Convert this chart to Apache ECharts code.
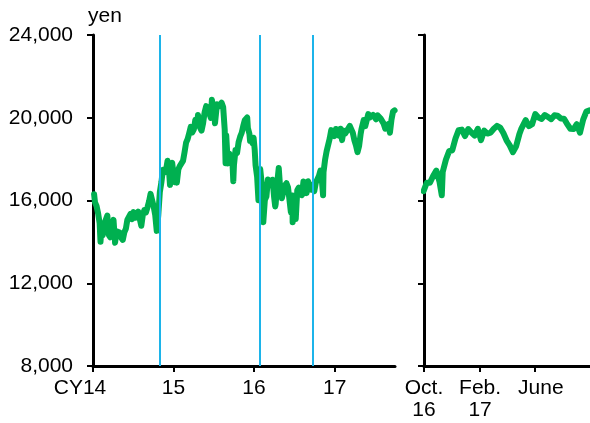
<!DOCTYPE html>
<html>
<head>
<meta charset="utf-8">
<script src="https://cdn.jsdelivr.net/npm/echarts@6/dist/echarts.min.js"></script>
<style>
  html, body { margin: 0; padding: 0; background: #fff; }
  #chart { width: 590px; height: 423px; }
</style>
</head>
<body>
<div id="chart"></div>
<script>
// Nikkei 225, mostly weekly closes (plus a few daily extremes)
const dates = [
  '2014-01-06','2014-01-10','2014-01-17','2014-01-24','2014-01-31','2014-02-04','2014-02-07','2014-02-14','2014-02-21','2014-02-28',
  '2014-03-07','2014-03-14','2014-03-20','2014-03-28','2014-04-04','2014-04-11','2014-04-18','2014-04-25','2014-05-02','2014-05-09',
  '2014-05-16','2014-05-23','2014-05-30','2014-06-06','2014-06-13','2014-06-20','2014-06-27','2014-07-04','2014-07-11','2014-07-18',
  '2014-07-25','2014-08-01','2014-08-08','2014-08-15','2014-08-22','2014-08-29','2014-09-05','2014-09-12','2014-09-19','2014-09-26',
  '2014-10-03','2014-10-10','2014-10-17','2014-10-24','2014-10-31','2014-11-07','2014-11-14','2014-11-21','2014-11-28','2014-12-05',
  '2014-12-12','2014-12-16','2014-12-19','2014-12-26','2014-12-30',
  '2015-01-06','2015-01-09','2015-01-16','2015-01-23','2015-01-30','2015-02-06','2015-02-13','2015-02-20','2015-02-27','2015-03-06',
  '2015-03-13','2015-03-20','2015-03-27','2015-04-03','2015-04-10','2015-04-17','2015-04-22','2015-04-24','2015-05-01','2015-05-08',
  '2015-05-15','2015-05-22','2015-05-29','2015-06-05','2015-06-12','2015-06-19','2015-06-24','2015-06-26','2015-07-03','2015-07-08',
  '2015-07-10','2015-07-17','2015-07-24','2015-07-31','2015-08-07','2015-08-14','2015-08-21','2015-08-25','2015-08-28','2015-09-04',
  '2015-09-11','2015-09-18','2015-09-25','2015-09-29','2015-10-02','2015-10-09','2015-10-16','2015-10-23','2015-10-30','2015-11-06',
  '2015-11-13','2015-11-20','2015-11-27','2015-12-01','2015-12-04','2015-12-11','2015-12-14','2015-12-18','2015-12-25','2015-12-30',
  '2016-01-04','2016-01-08','2016-01-15','2016-01-21','2016-01-22','2016-01-29','2016-02-05','2016-02-12','2016-02-19','2016-02-26',
  '2016-03-04','2016-03-11','2016-03-18','2016-03-25','2016-04-01','2016-04-06','2016-04-08','2016-04-15','2016-04-22','2016-04-28',
  '2016-05-06','2016-05-13','2016-05-20','2016-05-27','2016-06-03','2016-06-10','2016-06-16','2016-06-17','2016-06-23','2016-06-24',
  '2016-07-01','2016-07-08','2016-07-15','2016-07-22','2016-07-29','2016-08-05','2016-08-12','2016-08-19','2016-08-26','2016-09-02',
  '2016-09-09','2016-09-16','2016-09-23','2016-09-30','2016-10-07','2016-10-14','2016-10-21','2016-10-28','2016-11-04','2016-11-09',
  '2016-11-11','2016-11-18','2016-11-25','2016-12-02','2016-12-09','2016-12-16','2016-12-23','2016-12-30',
  '2017-01-06','2017-01-13','2017-01-20','2017-01-27','2017-02-03','2017-02-10','2017-02-17','2017-02-24','2017-03-03','2017-03-10',
  '2017-03-17','2017-03-24','2017-03-31','2017-04-07','2017-04-14','2017-04-21','2017-04-28','2017-05-02','2017-05-12','2017-05-19',
  '2017-05-26','2017-06-02','2017-06-09','2017-06-16','2017-06-23','2017-06-30','2017-07-07','2017-07-14','2017-07-21','2017-07-28',
  '2017-08-04','2017-08-10','2017-08-18','2017-08-25','2017-09-01','2017-09-08','2017-09-15','2017-09-22','2017-09-29'
];
const nikkei = [
  16300,15912,15734,15391,14915,14008,14462,14313,14866,14841,
  15274,14327,14224,14696,15063,13960,14516,14429,14457,14199,
  14096,14462,14632,15077,15097,15349,15095,15437,15164,15215,
  15457,15523,14778,15318,15539,15425,15669,15948,16321,16229,
  15709,15300,14532,15291,16414,16880,17490,17357,17460,17920,
  17371,16755,17621,17818,17451,
  16883,17198,16864,17512,17674,17648,17913,18332,18798,18971,
  19254,19560,19286,19435,19908,19653,20133,20020,19532,19380,
  19733,20264,20563,20461,20407,19990,20868,20706,20540,19737,
  19780,20650,20544,20585,20724,20519,19436,17806,19136,17792,
  18264,18070,17880,16931,17725,18438,18291,18825,19083,19265,
  19597,19880,19884,20012,19504,19230,18883,18986,18770,19034,
  18451,17698,17147,16017,16959,17518,16820,14953,16027,16188,
  17015,16939,16725,17003,16164,15715,15822,16849,17572,16666,
  16106,16412,16736,16834,16642,16601,15434,15599,16238,14952,
  15682,15107,16497,16627,16569,16254,16920,16545,16360,16926,
  16965,16519,16754,16449,16860,16856,17184,17446,16905,16251,
  17374,17968,18381,18426,18996,19401,19428,19114,
  19454,19287,19137,19467,18918,19379,19235,19284,19469,19605,
  19521,19262,18909,18665,18336,18620,19197,19446,19884,19591,
  19687,20177,20013,19943,20133,20033,19929,20119,20100,19960,
  19952,19730,19470,19453,19691,19275,19910,20296,20356
];

// BOJ policy dates marked with vertical lines
const policyDates = ['2014-10-31', '2016-01-29', '2016-09-21'];

const leftTickDates = ['2014-01-01', '2015-01-01', '2016-01-01', '2017-01-01'];
const leftTickLabels = ['CY14', '15', '16', '17'];
const rightTickDates = ['2016-10-01', '2017-02-01', '2017-06-01'];
const rightTickLabels = ['Oct.\n16', 'Feb.\n17', 'June'];
const yMin = 8000, yMax = 24000, yStep = 4000;

const FONT = '"Liberation Sans", Arial, sans-serif';
const FS = 21;
const GREEN = '#00B050';

const points = dates.map((d, i) => [Date.parse(d), nikkei[i]]);
const rightStart = Date.parse('2016-09-30');
const rightPoints = points.filter((p) => p[0] >= rightStart);

const leftTicks = leftTickDates.map((d) => Date.parse(d));
const rightTicks = rightTickDates.map((d) => Date.parse(d));

function fmtThousands(v) {
  return String(v).replace(/\B(?=(\d{3})+(?!\d))/g, ',');
}

function xAxisFor(gridIndex, min, max, ticks, labels, rich) {
  return {
    gridIndex: gridIndex,
    type: 'value',
    min: min,
    max: max,
    axisLine: { show: true, onZero: false, lineStyle: { color: '#000', width: 3 } },
    axisTick: { show: true, customValues: ticks, length: 6, lineStyle: { color: '#000', width: 2 } },
    axisLabel: {
      customValues: ticks,
      margin: 11,
      color: '#000',
      fontSize: FS,
      fontFamily: FONT,
      lineHeight: 22,
      formatter: (v) => {
        const i = ticks.indexOf(v);
        if (i < 0) return '';
        return rich[i] ? '{' + rich[i] + '|' + labels[i] + '}' : labels[i];
      },
      rich: {
        first: { fontSize: FS, fontFamily: FONT, color: '#000', padding: [0, 26, 0, 0] },
        june: { fontSize: FS, fontFamily: FONT, color: '#000', padding: [0, 0, 0, 12] }
      }
    },
    splitLine: { show: false }
  };
}

function yAxisFor(gridIndex, showLabels) {
  return {
    gridIndex: gridIndex,
    type: 'value',
    min: yMin,
    max: yMax,
    interval: yStep,
    axisLine: { show: true, lineStyle: { color: '#000', width: 3 } },
    axisTick: { show: true, length: 6, lineStyle: { color: '#000', width: 2 } },
    axisLabel: {
      show: showLabels,
      margin: 20,
      color: '#000',
      fontSize: FS,
      fontFamily: FONT,
      formatter: fmtThousands
    },
    splitLine: { show: false }
  };
}

const chart = echarts.init(document.getElementById('chart'));
chart.setOption({
  animation: false,
  backgroundColor: '#fff',
  grid: [
    { left: 93, top: 35, width: 302, height: 331 },
    { left: 424, top: 35, width: 166, height: 331 }
  ],
  graphic: [
    { type: 'text', left: 88, top: 6, style: { text: 'yen', fontSize: FS, fontFamily: FONT, fill: '#000' } }
  ],
  xAxis: [
    xAxisFor(0, Date.parse('2014-01-01'), Date.parse('2017-10-01'), leftTicks, leftTickLabels, ['first']),
    xAxisFor(1, Date.parse('2016-10-01'), Date.parse('2017-09-30'), rightTicks, rightTickLabels, [null, null, 'june'])
  ],
  yAxis: [yAxisFor(0, true), yAxisFor(1, false)],
  series: [
    {
      type: 'line',
      xAxisIndex: 0,
      yAxisIndex: 0,
      data: points,
      showSymbol: false,
      lineStyle: { color: GREEN, width: 6, join: 'round', cap: 'round' },
      markLine: {
        silent: true,
        symbol: ['none', 'none'],
        label: { show: false },
        lineStyle: { color: '#1CB4EA', width: 2, type: 'solid' },
        data: policyDates.map((d) => ({ xAxis: Date.parse(d) }))
      }
    },
    {
      type: 'line',
      xAxisIndex: 1,
      yAxisIndex: 1,
      data: rightPoints,
      showSymbol: false,
      lineStyle: { color: GREEN, width: 6, join: 'round', cap: 'round' }
    }
  ]
});
</script>
</body>
</html>
